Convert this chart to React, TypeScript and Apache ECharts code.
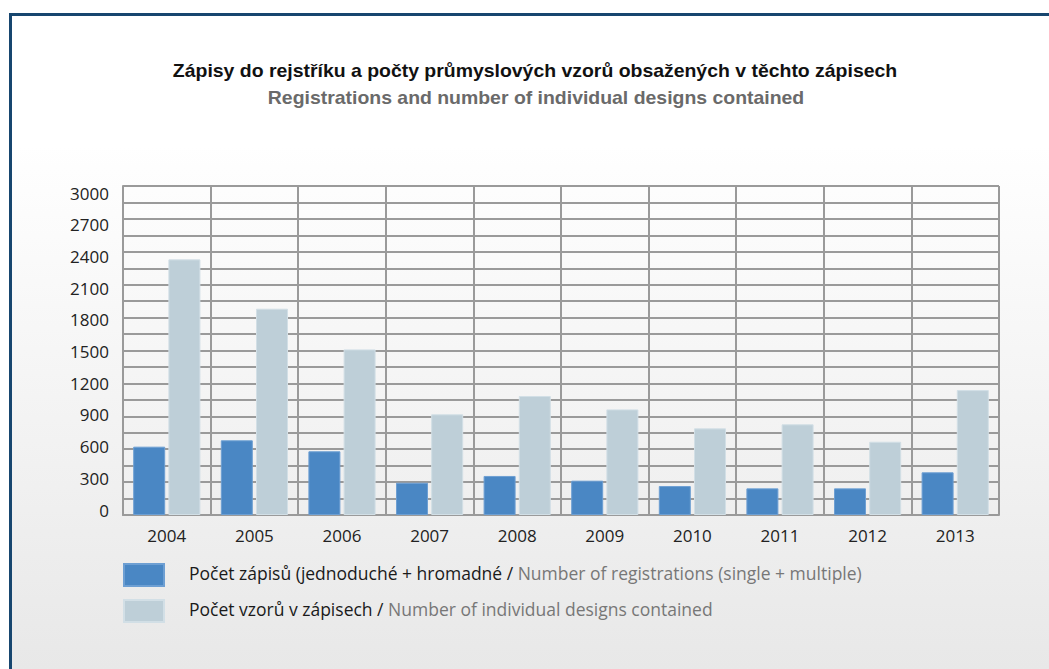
import React, { useEffect, useRef } from 'react';
import * as echarts from 'echarts';

const years = ['2004', '2005', '2006', '2007', '2008', '2009', '2010', '2011', '2012', '2013'];
const registrations = [623, 681, 581, 294, 356, 313, 264, 243, 243, 389];
const designs = [2331, 1881, 1510, 918, 1085, 963, 790, 827, 668, 1139];
const seriesNames = [
  'Počet zápisů (jednoduché + hromadné / Number of registrations (single + multiple)',
  'Počet vzorů v zápisech / Number of individual designs contained',
];
const titleText = 'Zápisy do rejstříku a počty průmyslových vzorů obsažených v těchto zápisech';
const subtitleText = 'Registrations and number of individual designs contained';
const yMax = 3000;
const yLabelStep = 300;
const yGridStep = 150;

export default function App() {
  const ref = useRef<HTMLDivElement>(null);
  useEffect(() => {
    document.body.style.margin = '0';
    const chart = echarts.init(ref.current!, null, { renderer: 'svg' });
    const font = 'Open Sans';
    chart.setOption({
      animation: false,
      graphic: [
        {
          type: 'rect', silent: true, z: -10,
          shape: { x: 10, y: 14, width: 1039, height: 655 },
          style: {
            fill: new echarts.graphic.LinearGradient(0, 0, 0, 1, [
              { offset: 0, color: '#ffffff' },
              { offset: 0.2, color: '#ffffff' },
              { offset: 1, color: '#e8e8e8' },
            ]),
          },
        },
        { type: 'rect', silent: true, shape: { x: 9, y: 13, width: 1040, height: 3 }, style: { fill: '#17466f' } },
        { type: 'rect', silent: true, shape: { x: 9, y: 13, width: 3, height: 656 }, style: { fill: '#17466f' } },
        {
          type: 'text', silent: true, x: 535, y: 71, scaleX: 1.08,
          style: {
            text: titleText, font: 'bold 18px "Liberation Sans"', fill: '#111',
            textAlign: 'center', textVerticalAlign: 'middle',
          },
        },
        {
          type: 'text', silent: true, x: 536, y: 98, scaleX: 1.08,
          style: {
            text: subtitleText, font: 'bold 18px "Liberation Sans"', fill: '#6a6a6a',
            textAlign: 'center', textVerticalAlign: 'middle',
          },
        },
      ],
      legend: {
        orient: 'vertical', left: 123, top: 563, padding: 0, itemWidth: 40, itemHeight: 22, itemGap: 12,
        icon: 'rect', data: seriesNames,
        formatter: (name: string) => {
          const i = name.indexOf(' / ');
          return `{a|${name.slice(0, i)} /}{b| ${name.slice(i + 3)}}`;
        },
        textStyle: {
          padding: [0, 0, 5, 20],
          rich: {
            a: { fontFamily: font, fontSize: 17.5, lineHeight: 22, color: '#1a1a1a' },
            b: { fontFamily: font, fontSize: 17.5, lineHeight: 22, color: '#777777' },
          },
        },
      },
      grid: [
        { left: 123, right: 50, top: 186, bottom: 154 },
        { left: 123, right: 50, top: 193, bottom: 159 },
      ],
      xAxis: [
        {
          type: 'category', data: years, gridIndex: 0,
          axisLine: { show: true, lineStyle: { color: '#9a9a9a', width: 2 } },
          axisTick: { show: false },
          axisLabel: { fontFamily: font, fontSize: 17, color: '#222', margin: 12 },
          splitLine: { show: true, lineStyle: { color: '#9a9a9a', width: 2 } },
        },
        { type: 'value', gridIndex: 1, show: false, min: 0, max: 1 },
      ],
      yAxis: [
        {
          type: 'value', gridIndex: 0, min: 0, max: yMax, interval: yGridStep,
          axisLine: { show: true, lineStyle: { color: '#9a9a9a', width: 2 } },
          axisTick: { show: false },
          axisLabel: { show: false },
          splitLine: { show: true, lineStyle: { color: '#9a9a9a', width: 2 } },
        },
        {
          type: 'value', gridIndex: 1, min: 0, max: yMax, interval: yLabelStep,
          axisLine: { show: false }, axisTick: { show: false }, splitLine: { show: false },
          axisLabel: { fontFamily: font, fontSize: 17, color: '#222', margin: 14, formatter: (v: number) => String(v) },
        },
      ],
      series: [
        {
          name: seriesNames[0], type: 'bar', data: registrations, barWidth: 32, barGap: '10%',
          xAxisIndex: 0, yAxisIndex: 0,
          itemStyle: { color: '#4a87c4', borderColor: '#6d9fd3', borderWidth: 1 },
        },
        {
          name: seriesNames[1], type: 'bar', data: designs, barWidth: 32, barGap: '10%',
          xAxisIndex: 0, yAxisIndex: 0,
          itemStyle: { color: '#becfd8', borderColor: '#d2dfe6', borderWidth: 1 },
        },
      ],
    });
    return () => chart.dispose();
  }, []);
  return <div ref={ref} style={{ width: 1049, height: 669 }} />;
}
